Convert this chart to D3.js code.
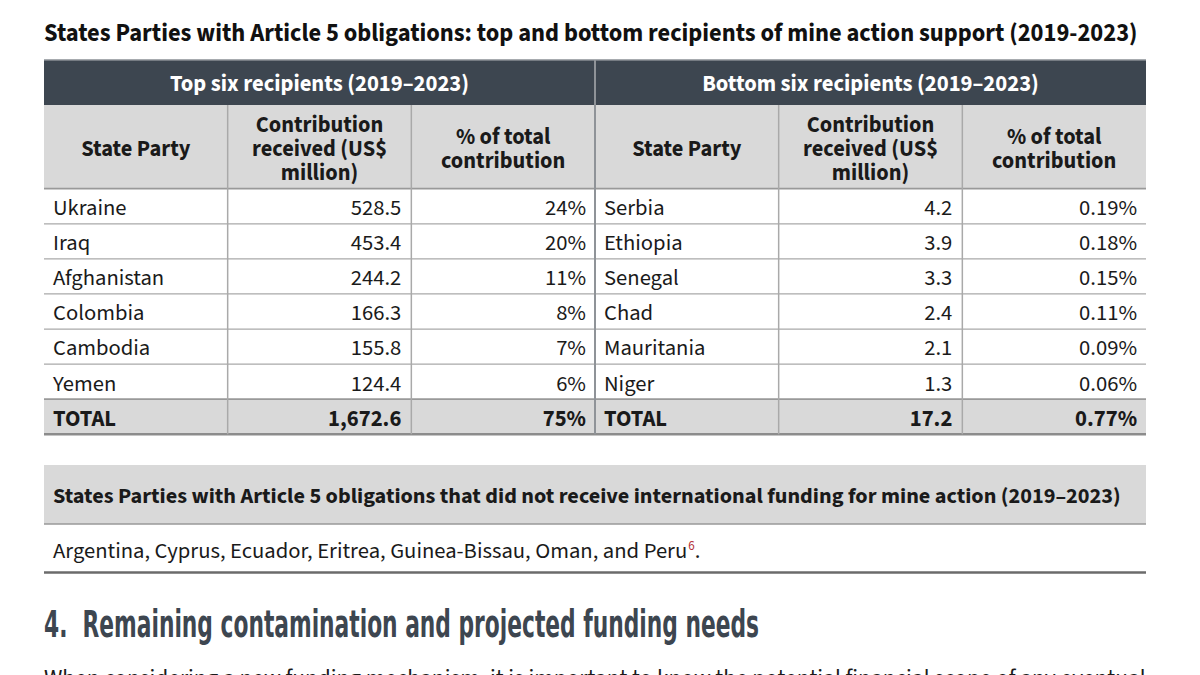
<!DOCTYPE html>
<html><head><meta charset="utf-8">
<script src="https://cdn.jsdelivr.net/npm/d3@7/dist/d3.min.js"></script>
<style>
html,body{margin:0;padding:0;background:#fff;}
svg{display:block;}
</style></head>
<body>
<svg id="c" width="1200" height="675"></svg>
<script>
// ---- data ----
const title = "States Parties with Article 5 obligations: top and bottom recipients of mine action support (2019-2023)";
const groupHeaders = ["Top six recipients (2019\u20132023)", "Bottom six recipients (2019\u20132023)"];
const columnHeaders = [["State Party"], ["Contribution", "received (US$", "million)"], ["% of total", "contribution"]];
const topStates = ["Ukraine", "Iraq", "Afghanistan", "Colombia", "Cambodia", "Yemen"];
const topValues = [528.5, 453.4, 244.2, 166.3, 155.8, 124.4];
const topPercents = ["24%", "20%", "11%", "8%", "7%", "6%"];
const bottomStates = ["Serbia", "Ethiopia", "Senegal", "Chad", "Mauritania", "Niger"];
const bottomValues = [4.2, 3.9, 3.3, 2.4, 2.1, 1.3];
const bottomPercents = ["0.19%", "0.18%", "0.15%", "0.11%", "0.09%", "0.06%"];
const totalLabel = "TOTAL";
const topTotal = "1,672.6", topTotalPct = "75%";
const bottomTotal = "17.2", bottomTotalPct = "0.77%";
const unfundedTitle = "States Parties with Article 5 obligations that did not receive international funding for mine action (2019\u20132023)";
const unfundedStates = ["Argentina", "Cyprus", "Ecuador", "Eritrea", "Guinea-Bissau", "Oman", "Peru"];
const footnote = "6";
const sectionHeading = "4.  Remaining contamination and projected funding needs";
const bodyText = "When considering a new funding mechanism, it is important to know the potential financial scope of any eventual";

// ---- layout ----
const svg = d3.select("#c");
const FONT = "'Source Sans Pro','Source Sans 3','Lato','Open Sans',sans-serif";
const dark = "#3d4650", grey = "#d9d9d9", line = "#a9a9a9", txt = "#1a1a1a";
const L = 44, R = 1146;
const FS = 22.6;
const col = d3.scaleBand().domain(d3.range(6)).range([L, R]).paddingInner(0).paddingOuter(0);
const grpBand = d3.scaleBand().domain([0, 1]).range([L, R]);
const rowIdx = d3.range(7); // 6 data + total
const row = d3.scaleBand().domain(rowIdx).range([188.7, 434.3]);

function fit(sel, w) {
  const node = sel.node();
  const cur = node.getComputedTextLength();
  const fs = parseFloat(sel.attr("font-size"));
  sel.attr("font-size", fs * w / cur);
}

// title
const t = svg.append("text").attr("x", L).attr("y", 32).attr("dy", "0.35em")
  .attr("font-family", FONT).attr("font-weight", 700).attr("font-size", 21)
  .attr("fill", "#111").text(title);
fit(t, 1094);

// dark group header
svg.append("rect").attr("x", L).attr("y", 60).attr("width", R - L).attr("height", 45).attr("fill", dark);
svg.append("line").attr("x1", L).attr("x2", R).attr("y1", 60).attr("y2", 60).attr("stroke", "#8a8f95").attr("stroke-width", 1.5);
svg.selectAll(".gh").data(groupHeaders).join("text")
  .attr("x", (d, i) => grpBand(i) + grpBand.bandwidth() / 2).attr("y", 83).attr("dy", "0.35em")
  .attr("text-anchor", "middle").attr("font-family", FONT).attr("font-weight", 700).attr("font-size", FS)
  .attr("fill", "#fff").text(d => d);

// column header band
svg.append("rect").attr("x", L).attr("y", 105).attr("width", R - L).attr("height", 83.7).attr("fill", grey);
const hdrs = d3.range(6).map(i => columnHeaders[i % 3]);
hdrs.forEach((lines, i) => {
  const cx = col(i) + col.bandwidth() / 2;
  const n = lines.length;
  const te = svg.append("text").attr("x", cx).attr("y", 148 - (n - 1) / 2 * 24 + 8)
    .attr("text-anchor", "middle").attr("font-family", FONT).attr("font-weight", 700).attr("font-size", 22.4)
    .attr("fill", txt);
  lines.forEach((s, k) => {
    te.append("tspan").attr("x", cx).attr("dy", k === 0 ? 0 : 24).text(s);
  });
});

// total row background
svg.append("rect").attr("x", L).attr("y", row(6)).attr("width", R - L).attr("height", row.bandwidth()).attr("fill", grey);

// horizontal row lines
svg.selectAll(".hl").data(d3.range(1, 6)).join("line")
  .attr("x1", L).attr("x2", R).attr("y1", d => row(d)).attr("y2", d => row(d))
  .attr("stroke", line).attr("stroke-width", 1.2);
svg.append("line").attr("x1", L).attr("x2", R).attr("y1", row(0)).attr("y2", row(0)).attr("stroke", "#999").attr("stroke-width", 1.8);
svg.append("line").attr("x1", L).attr("x2", R).attr("y1", row(6)).attr("y2", row(6)).attr("stroke", "#999").attr("stroke-width", 1.8);
svg.append("line").attr("x1", L).attr("x2", R).attr("y1", row(6) + row.bandwidth()).attr("y2", row(6) + row.bandwidth()).attr("stroke", "#8c8c8c").attr("stroke-width", 2.4);

// vertical lines
svg.selectAll(".vl").data([1, 2, 4, 5]).join("line")
  .attr("x1", d => col(d)).attr("x2", d => col(d)).attr("y1", 105).attr("y2", row(6) + row.bandwidth())
  .attr("stroke", line).attr("stroke-width", 1.5);
svg.append("line").attr("x1", col(3)).attr("x2", col(3)).attr("y1", 60).attr("y2", row(6) + row.bandwidth())
  .attr("stroke", "#8f9398").attr("stroke-width", 2);

// data cells
function cells(states, values, pcts, tot, totPct, c0) {
  const names = states.concat([totalLabel]);
  const vals = values.map(v => v.toFixed(1)).concat([tot]);
  const ps = pcts.concat([totPct]);
  const bold = i => (i === 6 ? 700 : 400);
  const yc = (d, i) => row(i) + row.bandwidth() / 2 + 1;
  svg.selectAll(null).data(names).join("text")
    .attr("x", col(c0) + 9).attr("y", yc).attr("dy", "0.35em")
    .attr("font-family", FONT).attr("font-size", FS).attr("font-weight", (d, i) => bold(i)).attr("fill", txt).text(d => d);
  svg.selectAll(null).data(vals).join("text")
    .attr("x", col(c0 + 1) + col.bandwidth() - 10).attr("y", yc).attr("dy", "0.35em")
    .attr("text-anchor", "end").attr("font-family", FONT).attr("font-size", FS).attr("font-weight", (d, i) => bold(i)).attr("fill", txt).text(d => d);
  svg.selectAll(null).data(ps).join("text")
    .attr("x", col(c0 + 2) + col.bandwidth() - 9).attr("y", yc).attr("dy", "0.35em")
    .attr("text-anchor", "end").attr("font-family", FONT).attr("font-size", FS).attr("font-weight", (d, i) => bold(i)).attr("fill", txt).text(d => d);
}
cells(topStates, topValues, topPercents, topTotal, topTotalPct, 0);
cells(bottomStates, bottomValues, bottomPercents, bottomTotal, bottomTotalPct, 3);

// unfunded box
svg.append("rect").attr("x", L).attr("y", 465).attr("width", R - L).attr("height", 59).attr("fill", grey);
svg.append("line").attr("x1", L).attr("x2", R).attr("y1", 524).attr("y2", 524).attr("stroke", "#999").attr("stroke-width", 1.5);
const ut = svg.append("text").attr("x", 53).attr("y", 495).attr("dy", "0.35em")
  .attr("font-family", FONT).attr("font-weight", 700).attr("font-size", 20).attr("fill", txt).text(unfundedTitle);
fit(ut, 1068);
const list = unfundedStates.slice(0, -1).join(", ") + ", and " + unfundedStates[unfundedStates.length - 1];
const lt = svg.append("text").attr("x", 53).attr("y", 558)
  .attr("font-family", FONT).attr("font-size", FS).attr("fill", txt);
lt.append("tspan").text(list);
lt.append("tspan").attr("font-size", 13).attr("dy", -8).attr("dx", 1).attr("fill", "#b5333a").text(footnote);
lt.append("tspan").attr("dy", 8).text(".");
svg.append("line").attr("x1", L).attr("x2", R).attr("y1", 572.5).attr("y2", 572.5).attr("stroke", "#6b6b6b").attr("stroke-width", 2.5);

// section heading (condensed)
svg.append("text").attr("x", L).attr("y", 637)
  .attr("font-family", "'Liberation Sans Narrow','DejaVu Sans Condensed','Roboto',sans-serif")
  .attr("font-stretch", "condensed").attr("font-weight", 700).attr("font-size", 37).attr("fill", dark)
  .attr("textLength", 715).attr("lengthAdjust", "spacingAndGlyphs")
  .attr("xml:space", "preserve").style("white-space", "pre").text(sectionHeading);

// body text (cut off at bottom)
const bt = svg.append("text").attr("x", L).attr("y", 686)
  .attr("font-family", FONT).attr("font-size", 22).attr("fill", txt).text(bodyText);
fit(bt, 1102);
</script>
</body></html>
